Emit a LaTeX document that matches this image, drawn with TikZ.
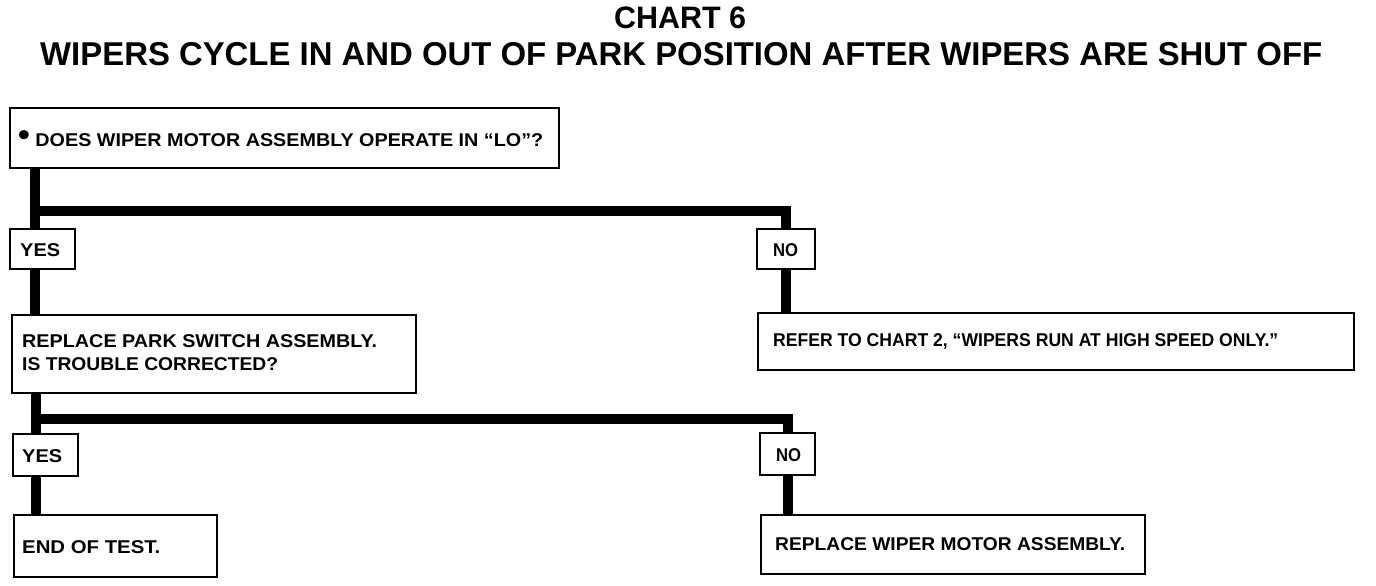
\documentclass[tikz,border=0pt]{standalone}
\usepackage{fontspec}
\setmainfont{Liberation Sans}
\usepackage{graphicx}
\newcommand\fitw[2]{\resizebox{#1pt}{\height}{#2}}
\tikzset{
  box/.style={draw, line width=2pt, fill=white, inner sep=0pt},
  trunk/.style={line width=10pt},
  txt/.style={anchor=base west, inner sep=0pt, font=\fontsize{18.5}{20}\selectfont\bfseries},
  ttl/.style={anchor=base west, inner sep=0pt}
}
\begin{document}
\begin{tikzpicture}[x=1pt,y=-1pt]
\fill[white] (0,0) rectangle (1376,586);
\useasboundingbox (0,0) rectangle (1376,586);
% title
\node[ttl, font=\fontsize{31}{33}\selectfont\bfseries] (t1) at (614,29) {\fitw{132}{CHART 6}};
\node[ttl, font=\fontsize{33}{35}\selectfont\bfseries] (t2) at (40,66) {\fitw{1282}{WIPERS CYCLE IN AND OUT OF PARK POSITION AFTER WIPERS ARE SHUT OFF}};
% coordinates for trunks
\coordinate (L1) at (35,0);
\coordinate (L2) at (36,0);
\coordinate (b1) at (35,211);
\coordinate (b2) at (36,419);
% box positions
\path
  node[box, minimum width=549pt, minimum height=60pt] (q1) at (284,138) {}
  node[box, minimum width=65pt, minimum height=40pt] (yes1) at (42.5,249) {}
  node[box, minimum width=58pt, minimum height=40pt] (no1) at (786,249) {}
  node[box, minimum width=596pt, minimum height=57pt] (r2) at (1056,341.5) {}
  node[box, minimum width=404pt, minimum height=78pt] (q2) at (214,354) {}
  node[box, minimum width=65pt, minimum height=42pt] (yes2) at (45.5,455) {}
  node[box, minimum width=55pt, minimum height=42pt] (no2) at (787.5,454) {}
  node[box, minimum width=203pt, minimum height=62pt] (endt) at (115.5,546) {}
  node[box, minimum width=384pt, minimum height=59pt] (rep) at (953,544.5) {};
% connectors
\draw[trunk] (q1.south -| L1) -- (q2.north -| L1);
\draw[trunk] (b1) -| (no1.north);
\draw[trunk] (no1.south) -- (r2.north -| no1.south);
\draw[trunk] (q2.south -| L2) -- (endt.north -| L2);
\draw[trunk] (b2) -| (no2.north);
\draw[trunk] (no2.south) -- (rep.north -| no2.south);
% boxes on top of the connectors
\path
  node[box, minimum width=549pt, minimum height=60pt] at (q1) {}
  node[box, minimum width=65pt, minimum height=40pt] at (yes1) {}
  node[box, minimum width=58pt, minimum height=40pt] at (no1) {}
  node[box, minimum width=596pt, minimum height=57pt] at (r2) {}
  node[box, minimum width=404pt, minimum height=78pt] at (q2) {}
  node[box, minimum width=65pt, minimum height=42pt] at (yes2) {}
  node[box, minimum width=55pt, minimum height=42pt] at (no2) {}
  node[box, minimum width=203pt, minimum height=62pt] at (endt) {}
  node[box, minimum width=384pt, minimum height=59pt] at (rep) {};
% texts
\node[txt] (q1t) at (18,146) {\fitw{525}{\raisebox{0.05em}{\scalebox{1.7}{•}}\ DOES WIPER MOTOR ASSEMBLY OPERATE IN “LO”?}};
\node[txt] (yes1t) at (20,256) {\fitw{40}{YES}};
\node[txt] (no1t) at (773,256) {\fitw{25}{NO}};
\node[txt] (q2t1) at (22,347) {\fitw{355}{REPLACE PARK SWITCH ASSEMBLY.}};
\node[txt] (q2t2) at (22,370) {\fitw{256}{IS TROUBLE CORRECTED?}};
\node[txt] (r2t) at (773,346) {\fitw{505}{REFER TO CHART 2, “WIPERS RUN AT HIGH SPEED ONLY.”}};
\node[txt] (yes2t) at (22,462) {\fitw{40}{YES}};
\node[txt] (no2t) at (776,461) {\fitw{25}{NO}};
\node[txt] (endtt) at (22,553) {\fitw{138}{END OF TEST.}};
\node[txt] (rept) at (775,550) {\fitw{350}{REPLACE WIPER MOTOR ASSEMBLY.}};
\end{tikzpicture}
\end{document}
